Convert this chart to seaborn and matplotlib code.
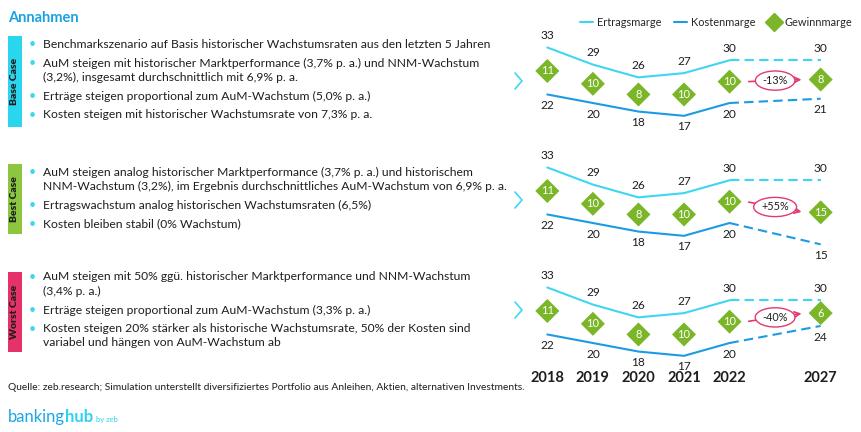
import numpy as np
import pandas as pd
import matplotlib.pyplot as plt
import matplotlib.patches as mpatches
from matplotlib.lines import Line2D
import seaborn as sns

sns.set_style('white')
plt.rcParams['font.family'] = ['Lato', 'DejaVu Sans']

# Daten
years = ['2018', '2019', '2020', '2021', '2022', '2027']
case_names = ['Base Case', 'Best Case', 'Worst Case']

ertrag_base = [33, 29, 26, 27, 30, 30]
kosten_base = [22, 20, 18, 17, 20, 21]
gewinn_base = [11, 10, 8, 10, 10, 8]

ertrag_best = [33, 29, 26, 27, 30, 30]
kosten_best = [22, 20, 18, 17, 20, 15]
gewinn_best = [11, 10, 8, 10, 10, 15]

ertrag_worst = [33, 29, 26, 27, 30, 30]
kosten_worst = [22, 20, 18, 17, 20, 24]
gewinn_worst = [11, 10, 8, 10, 10, 6]

veraenderung = ['-13%', '+55%', '-40%']

bullets_base = [
    'Benchmarkszenario auf Basis historischer Wachstumsraten aus den letzten 5 Jahren',
    'AuM steigen mit historischer Marktperformance (3,7% p. a.) und NNM-Wachstum\n(3,2%), insgesamt durchschnittlich mit 6,9% p. a.',
    'Erträge steigen proportional zum AuM-Wachstum (5,0% p. a.)',
    'Kosten steigen mit historischer Wachstumsrate von 7,3% p. a.',
]
bullets_best = [
    'AuM steigen analog historischer Marktperformance (3,7% p. a.) und historischem\nNNM-Wachstum (3,2%), im Ergebnis durchschnittliches AuM-Wachstum von 6,9% p. a.',
    'Ertragswachstum analog historischen Wachstumsraten (6,5%)',
    'Kosten bleiben stabil (0% Wachstum)',
]
bullets_worst = [
    'AuM steigen mit 50% ggü. historischer Marktperformance und NNM-Wachstum\n(3,4% p. a.)',
    'Erträge steigen proportional zum AuM-Wachstum (3,3% p. a.)',
    'Kosten steigen 20% stärker als historische Wachstumsrate, 50% der Kosten sind\nvariabel und hängen von AuM-Wachstum ab',
]

# Farben
c_ertrag = '#3ED6F2'
c_kosten = '#1C9BE4'
c_gewinn = '#7AB628'
c_rot = '#E33A6E'
c_titel = '#1AA2E2'
c_text = '#1E1E1E'
case_colors = ['#2AD6EE', '#8CC63F', '#E5336A']

W, H = 862, 432
fig = plt.figure(figsize=(W / 100, H / 100), dpi=100)


def fx(px):
    return px / W


def fy(py):
    return 1 - py / H


# Titel
fig.text(fx(8), fy(18), 'Annahmen', color=c_titel, fontsize=10.5,
         fontweight='bold', va='center')

# Seitenlabels und Stichpunkte
box_y = [(36, 127), (164, 234), (272, 352)]
text_start = [44, 172, 277]
chevron_y = [81, 200, 310]
all_bullets = [bullets_base, bullets_best, bullets_worst]
for i, name in enumerate(case_names):
    y0, y1 = box_y[i]
    rect = mpatches.Rectangle((fx(8), fy(y1)), fx(14), (y1 - y0) / H,
                              transform=fig.transFigure, color=case_colors[i],
                              lw=0)
    fig.add_artist(rect)
    fig.text(fx(15), fy((y0 + y1) / 2), name, rotation=90, fontsize=7.5,
             fontweight='heavy', color=c_text, ha='center', va='center')
    y = text_start[i]
    for item in all_bullets[i]:
        fig.text(fx(32), fy(y), '•', color=c_ertrag, fontsize=9,
                 ha='center', va='center')
        for line in item.split('\n'):
            fig.text(fx(43), fy(y), line, color=c_text, fontsize=8.7,
                     va='center')
            y += 14
        y += 5
    # Pfeilspitze ">"
    cy = chevron_y[i]
    fig.add_artist(Line2D([fx(515), fx(522), fx(515)], [fy(cy - 8), fy(cy), fy(cy + 8)],
                          transform=fig.transFigure, color=c_ertrag, lw=1.2))

# Quelle und Logo
fig.text(fx(8), fy(388), 'Quelle: zeb.research; Simulation unterstellt diversifiziertes '
         'Portfolio aus Anleihen, Aktien, alternativen Investments.',
         fontsize=7.35, color=c_text, va='center')
t_bank = fig.text(fx(8), fy(422), 'banking', fontsize=12, color='#1BA6E6',
                  va='baseline')
renderer = fig.canvas.get_renderer()
x_hub = t_bank.get_window_extent(renderer).x1
t_hub = fig.text(x_hub / W, fy(422), 'hub', fontsize=12, fontweight='bold',
                 color='#2DD3F0', va='baseline')
x_by = t_hub.get_window_extent(renderer).x1 + 3
fig.text(x_by / W, fy(422), 'by zeb', fontsize=5.5, color='#2DD3F0',
         va='baseline')

# Diagramme
x = np.arange(len(years), dtype=float)
x[-1] += 1  # Lücke bis zur Prognose 2027

panel_top = [24, 144, 264]
ax_left, ax_width = 520, 328
ax_height = 102.5

datasets = [
    (ertrag_base, kosten_base, gewinn_base),
    (ertrag_best, kosten_best, gewinn_best),
    (ertrag_worst, kosten_worst, gewinn_worst),
]

for i, (ertrag, kosten, gewinn) in enumerate(datasets):
    ax = fig.add_axes([fx(ax_left), fy(panel_top[i] + ax_height),
                       ax_width / W, ax_height / H])
    df = pd.DataFrame({'x': x, 'ertrag': ertrag, 'kosten': kosten, 'gewinn': gewinn})
    df['mitte'] = (df['ertrag'] + df['kosten']) / 2
    hist = df.iloc[:5]
    prog = df.iloc[4:]

    for col, c in [('ertrag', c_ertrag), ('kosten', c_kosten)]:
        sns.lineplot(data=hist, x='x', y=col, ax=ax, color=c, lw=1.5,
                     errorbar=None)
        sns.lineplot(data=prog, x='x', y=col, ax=ax, color=c, lw=1.5,
                     errorbar=None, linestyle=(0, (4.5, 2.5)))

    sns.scatterplot(data=df, x='x', y='mitte', marker='D', s=150,
                    color=c_gewinn, edgecolor='none', ax=ax, zorder=3,
                    legend=False)

    for _, r in df.iterrows():
        ax.annotate(f"{r['ertrag']:.0f}", (r['x'], r['ertrag']),
                    xytext=(0, 8.5), textcoords='offset points', ha='center',
                    va='center', fontsize=8.6, color=c_text)
        ax.annotate(f"{r['kosten']:.0f}", (r['x'], r['kosten']),
                    xytext=(0, -8), textcoords='offset points', ha='center',
                    va='center', fontsize=8.6, color=c_text)
        ax.text(r['x'], r['mitte'], f"{r['gewinn']:.0f}", ha='center',
                va='center', fontsize=8, color='white', zorder=4)

    # Veränderung Gewinnmarge 2022 -> 2027
    m22 = df['mitte'].iloc[4]
    m27 = df['mitte'].iloc[5]
    ax.annotate('', xy=(x[5] - 0.36, m27), xytext=(x[4] + 0.36, m22),
                arrowprops=dict(arrowstyle='->', color=c_rot, lw=1.2))
    ax.text((x[4] + x[5]) / 2, (m22 + m27) / 2, veraenderung[i], ha='center',
            va='center', fontsize=7.8, color=c_text,
            bbox=dict(boxstyle='ellipse,pad=0.12', fc='white', ec=c_rot, lw=1))

    ax.set_xlim(-0.6, 6.6)
    ax.set_ylim(14.5, 38.5)
    ax.set_xlabel('')
    ax.set_ylabel('')
    ax.set_yticks([])
    ax.patch.set_alpha(0)
    sns.despine(ax=ax, left=True, bottom=True)
    if i == 2:
        ax.set_xticks(x, years)
        ax.tick_params(axis='x', length=0, pad=3, labelsize=10.5)
        for lab in ax.get_xticklabels():
            lab.set_fontweight('bold')
            lab.set_color(c_text)
    else:
        ax.set_xticks([])

# Legende
handles = [
    Line2D([], [], color=c_ertrag, lw=1.5, label='Ertragsmarge'),
    Line2D([], [], color=c_kosten, lw=1.5, label='Kostenmarge'),
    Line2D([], [], color=c_gewinn, marker='D', ls='', markersize=9,
           label='Gewinnmarge'),
]
fig.legend(handles=handles, loc='upper right', bbox_to_anchor=(fx(862), fy(7)),
           ncol=3, frameon=False, fontsize=7.9, handlelength=1.2,
           handletextpad=0.35, columnspacing=1.1)

fig.savefig('out.png', dpi=100)
